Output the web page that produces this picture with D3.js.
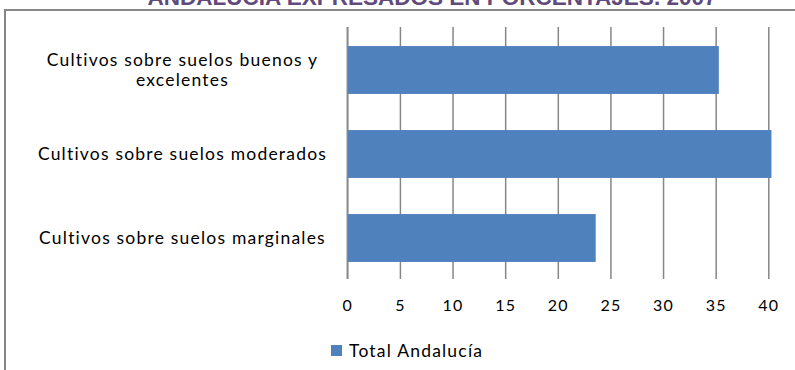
<!DOCTYPE html>
<html>
<head>
<meta charset="utf-8">
<script src="https://cdn.jsdelivr.net/npm/d3@7"></script>
<style>
  html, body { margin: 0; padding: 0; background: #fff; }
  svg { display: block; }
  text { font-variant-ligatures: none; }
</style>
</head>
<body>
<svg id="chart" width="795" height="370"></svg>
<script>
// Cultivated land by soil quality, Andalucía (percent)
const categories = [
  "Cultivos sobre suelos buenos y excelentes",
  "Cultivos sobre suelos moderados",
  "Cultivos sobre suelos marginales"
];
const totalAndalucia = [35.3, 40.3, 23.6];
const xTicks = [0, 5, 10, 15, 20, 25, 30, 35, 40];
const seriesName = "Total Andalucía";
const titleText = "ANDALUCÍA EXPRESADOS EN PORCENTAJES. 2007";

const W = 795, H = 370;
const plot = { left: 347.3, right: 768.3, top: 27, bottom: 279 };
const gray = "#868686";
const barColor = "#4F81BD";
const font = "Lato, 'Open Sans', sans-serif";

const svg = d3.select("#chart");

// chart frame (extends past the right and bottom edges)
svg.append("rect")
  .attr("x", 5).attr("y", 10)
  .attr("width", W + 20).attr("height", H + 20)
  .attr("fill", "none").attr("stroke", gray).attr("stroke-width", 2);

// title (second line of a two-line heading)
svg.append("text")
  .attr("x", 432).attr("y", 5)
  .attr("text-anchor", "middle")
  .attr("font-family", "'Liberation Sans', Arial, sans-serif")
  .attr("font-weight", "bold").attr("font-size", 22.5)
  .attr("fill", "#604A7B")
  .text(titleText);

const x = d3.scaleLinear().domain([0, 40]).range([plot.left, plot.right]);
const y = d3.scaleBand().domain(categories)
  .range([plot.top + 1, plot.bottom + 1])
  .paddingInner(0.43).paddingOuter(0.215);

// vertical gridlines + value labels
const xAxis = d3.axisBottom(x)
  .tickValues(xTicks)
  .tickSize(-(plot.bottom - plot.top))
  .tickPadding(21)
  .tickFormat(d3.format("d"));

const gx = svg.append("g")
  .attr("transform", `translate(0,${plot.bottom})`)
  .call(xAxis);
gx.select(".domain").remove();
gx.selectAll(".tick line").attr("stroke", gray).attr("stroke-width", 1.5);
gx.selectAll(".tick text")
  .attr("font-family", font).attr("font-size", 16)
  .attr("letter-spacing", 1.2)
  .attr("fill", "#000");

// bars
svg.append("g").selectAll("rect")
  .data(categories.map((c, i) => ({ c, v: totalAndalucia[i] })))
  .join("rect")
  .attr("x", x(0))
  .attr("y", d => y(d.c))
  .attr("width", d => x(d.v) - x(0))
  .attr("height", y.bandwidth())
  .attr("fill", barColor);

// category axis line
svg.append("line")
  .attr("x1", x(0)).attr("x2", x(0))
  .attr("y1", plot.top).attr("y2", plot.bottom)
  .attr("stroke", gray).attr("stroke-width", 1.5);

// category labels, wrapped and centred
const labelCx = 182.5, maxLabelW = 305, lineH = 19.5;
const labels = svg.append("g")
  .attr("font-family", font).attr("font-size", 17.5)
  .attr("letter-spacing", 1.2).attr("fill", "#000")
  .attr("text-anchor", "middle");

categories.forEach(c => {
  const t = labels.append("text").attr("x", labelCx);
  // greedy word wrap
  const words = c.split(" ");
  const lines = [];
  let cur = "";
  const probe = labels.append("text").attr("visibility", "hidden");
  words.forEach(w => {
    const test = cur ? cur + " " + w : w;
    probe.text(test);
    if (probe.node().getComputedTextLength() > maxLabelW && cur) {
      lines.push(cur); cur = w;
    } else cur = test;
  });
  lines.push(cur);
  probe.remove();
  const cy = y(c) + y.bandwidth() / 2;
  const y0 = cy - (lines.length - 1) * lineH / 2;
  lines.forEach((ln, i) => {
    t.append("tspan").attr("x", labelCx).attr("y", y0 + i * lineH)
      .attr("dy", "0.33em").text(ln);
  });
});

// legend
const lg = svg.append("g").attr("transform", "translate(331,345)");
lg.append("rect").attr("width", 11).attr("height", 11).attr("fill", barColor);
lg.append("text")
  .attr("x", 18).attr("y", 5.5).attr("dy", "0.35em")
  .attr("font-family", font).attr("font-size", 17.5)
  .attr("letter-spacing", 1.2).attr("fill", "#000")
  .text(seriesName);
</script>
</body>
</html>
